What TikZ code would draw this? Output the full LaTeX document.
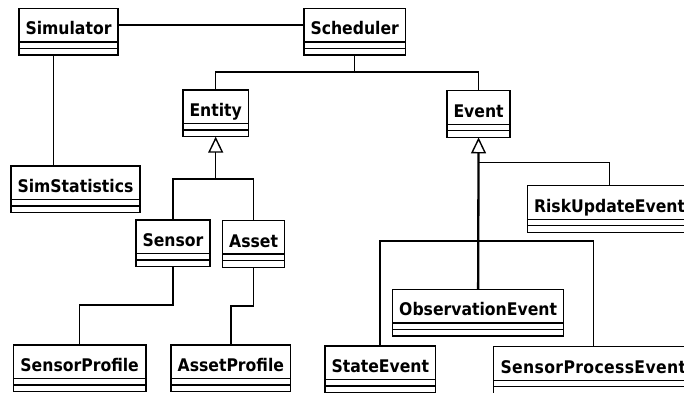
\documentclass[tikz,border=0pt]{standalone}
\usepackage{fontspec}
\setmainfont{DejaVu Sans Condensed}
\usetikzlibrary{arrows.meta,calc}

\newcommand\classfont{\fontsize{17.4}{20}\selectfont\bfseries}
% the two empty compartments (attributes, operations) under the class name
\newcommand\umlbars[1]{%
  \draw[bar] ($(#1.north west)+(0,-33.5pt)$) -- ($(#1.north east)+(0,-33.5pt)$);
  \draw[bar] ($(#1.north west)+(0,-40pt)$) -- ($(#1.north east)+(0,-40pt)$);}

\tikzset{
  classbox/.style={draw, line width=1.4pt, fill=white, anchor=north west,
    inner xsep=6.5pt, inner ysep=0pt, outer sep=0pt,
    text height=26.5pt, text depth=20.2pt, font=\classfont},
  bar/.style={line width=1.4pt},
  link/.style={line width=1.6pt},
  gen/.style={line width=1.6pt,
    -{Triangle[open, length=16pt, width=15pt, line width=1.4pt]}},
  trunk/.style={gen, line width=2.3pt}
}

\begin{document}
\begin{tikzpicture}[x=1pt, y=-1pt]
\path[use as bounding box] (0,0) rectangle (684,392);
\clip (0,0) rectangle (684,392);

% classes
\node[classbox, minimum width=97pt]    (sim)   at (19,8.3)     {Simulator};
\node[classbox, minimum width=101pt]   (sch)   at (304,8.3)    {Scheduler};
\node[classbox, minimum width=62pt]    (ent)   at (183,90)     {Entity};
\node[classbox, minimum width=61pt]    (evt)   at (447,90.7)   {Event};
\node[classbox, minimum width=126.7pt] (stat)  at (11,166)     {SimStatistics};
\node[classbox, minimum width=73.3pt]  (sen)   at (136,220)    {Sensor};
\node[classbox, minimum width=60.6pt]  (ast)   at (222.7,220.5){Asset};
\node[classbox]                        (risk)  at (527.5,185.7){RiskUpdateEvent};
\node[classbox, minimum width=169.6pt] (obs)   at (392.7,289.3){ObservationEvent};
\node[classbox, minimum width=132.7pt] (sprof) at (13.3,345)   {SensorProfile};
\node[classbox, minimum width=119.7pt] (aprof) at (171,345)    {AssetProfile};
\node[classbox, minimum width=106pt]   (state) at (325,346)    {StateEvent};
\node[classbox, minimum width=200pt]   (spe)   at (493.3,346.7){\addfontfeatures{LetterSpace=2}SensorProcessEvent};

\foreach \c in {sim,sch,ent,evt,stat,sen,ast,risk,obs,sprof,aprof,state,spe}{\umlbars{\c}}

% associations
\draw[link] ($(sim.north east)+(0,-16.7pt)$) -- ($(sch.north west)+(0,-16.7pt)$);
\coordinate (schj) at ($(sch.south)+(0,-17pt)$);
\draw[link] (sch.south) -- (schj) -| (ent.north);
\draw[link] (schj) -| (evt.north);
\coordinate (simdrop) at ($(sim.south west)+(34.3pt,0)$);
\draw[link] (simdrop) -- (simdrop |- stat.north);
\coordinate (senj) at ($(sen.south)+(0,-38pt)$);
\draw[link] (sen.south) -- (senj) -| (sprof.north);
\coordinate (astj) at ($(ast.south)+(0,-38.5pt)$);
\draw[link] (ast.south) -- (astj) -| (aprof.north);

% generalizations of Entity
\coordinate (entj) at ($(ent.south)+(0,-42pt)$);
\draw[link] (sen.north) |- (entj);
\draw[link] (ast.north) |- (entj);
\draw[gen] (entj) -- (ent.south);

% generalizations of Event
\coordinate (evtja) at ($(evt.south)+(0,-25pt)$);
\coordinate (evtjb) at ($(evt.south)+(0,-103.3pt)$);
\draw[link] (risk.north) |- (evtja);
\draw[link] (state.north) |- (evtjb);
\draw[link] (spe.north) |- (evtjb);
\draw[trunk] (obs.north) -- (evt.south);
\end{tikzpicture}
\end{document}
